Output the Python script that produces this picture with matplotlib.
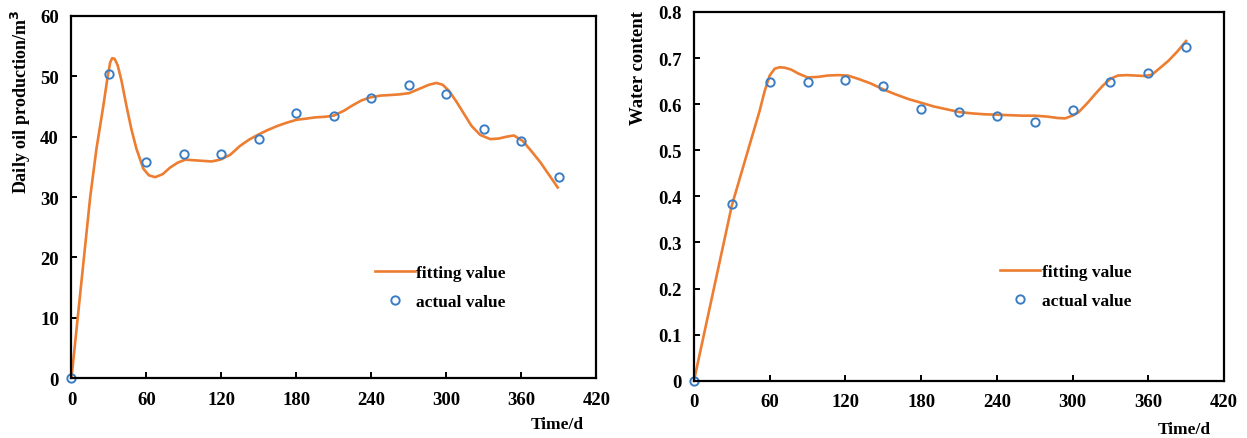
import matplotlib
matplotlib.use("Agg")
import matplotlib.pyplot as plt

plt.rcParams['font.family'] = ['Liberation Serif', 'DejaVu Serif']
plt.rcParams['font.weight'] = 'bold'

# measured data, sampled every 30 days
days = [0, 30, 60, 90, 120, 150, 180, 210, 240, 270, 300, 330, 360, 390]
oil_actual = [0, 50.4, 35.8, 37.1, 37.1, 39.6, 44.0, 43.4, 46.4, 48.6, 47.1, 41.3, 39.3, 33.4]
water_actual = [0, 0.384, 0.649, 0.647, 0.652, 0.639, 0.589, 0.584, 0.574, 0.561, 0.588, 0.647, 0.667, 0.723]

# fitted model output
oil_fit_days = [0, 15, 20, 25.5, 29, 31, 32.6, 34.5, 37, 40, 44, 48, 52, 57.5, 62, 67, 73, 79, 85, 91,
                98, 105, 112, 119, 127, 135, 142, 149, 157, 165, 172, 180, 188, 195, 203, 210,
                218, 225, 232, 239, 247, 255, 262, 270, 278, 286, 292, 297, 302, 308, 314, 320,
                327, 335, 342, 348, 354, 361, 368, 375, 382, 389]
oil_fit = [0, 30, 38, 45.1, 50, 52.3, 53.0, 52.9, 51.8, 49.3, 45.1, 41.2, 38, 34.7, 33.6, 33.3, 33.8, 34.9,
           35.7, 36.2, 36.1, 36.0, 35.9, 36.2, 37.0, 38.5, 39.5, 40.3, 41.1, 41.8, 42.3, 42.8,
           43.0, 43.2, 43.3, 43.5, 44.3, 45.2, 46.0, 46.5, 46.8, 46.9, 47.0, 47.2, 47.9, 48.6,
           48.9, 48.6, 47.6, 45.8, 43.8, 41.8, 40.3, 39.6, 39.7, 40.0, 40.2, 39.3, 37.6, 35.8,
           33.7, 31.6]

water_fit_days = [0, 30, 45, 52, 56, 60, 64, 68, 72, 77, 83, 90, 98, 106, 114, 122, 130, 140,
                  150, 160, 170, 180, 190, 200, 210, 220, 230, 241, 250, 260, 270, 280, 288, 294,
                  300, 305, 312, 318, 324, 330, 336, 343, 350, 357, 363, 370, 376, 383, 390]
water_fit = [0, 0.38, 0.52, 0.585, 0.628, 0.662, 0.677, 0.680, 0.679, 0.675, 0.666, 0.658,
             0.659, 0.662, 0.663, 0.662, 0.655, 0.645, 0.632, 0.621, 0.611, 0.603, 0.595, 0.589,
             0.583, 0.580, 0.578, 0.577, 0.576, 0.575, 0.575, 0.573, 0.570, 0.569, 0.575, 0.583,
             0.603, 0.622, 0.640, 0.655, 0.662, 0.663, 0.662, 0.661, 0.664, 0.680, 0.694, 0.714,
             0.737]

x_ticks = [0, 60, 120, 180, 240, 300, 360, 420]
oil_ticks = [0, 10, 20, 30, 40, 50, 60]
water_ticks = [0, 0.1, 0.2, 0.3, 0.4, 0.5, 0.6, 0.7, 0.8]
water_tick_labels = ['0', '0.1', '0.2', '0.3', '0.4', '0.5', '0.6', '0.7', '0.8']

fit_color = '#ED7D31'
pt_color = '#3A7DC4'

fig = plt.figure(figsize=(12.47, 4.39), dpi=100)
ax1 = fig.add_axes([0.0573, 0.136, 0.4210, 0.8255])
ax2 = fig.add_axes([0.5565, 0.1305, 0.4250, 0.8400])


def style(ax):
    for s in ax.spines.values():
        s.set_linewidth(1.6)
    ax.tick_params(direction='in', length=4, width=1.4, labelsize=13.5)
    ax.tick_params(axis='y', pad=9)
    ax.tick_params(axis='x', pad=9)
    ax.set_xlim(0, 420)
    ax.set_xticks(x_ticks)
    for lab in ax.get_xticklabels() + ax.get_yticklabels():
        lab.set_fontweight('bold')


def add_legend(ax, y):
    ax.legend(loc='center left', bbox_to_anchor=(0.548, y), frameon=False,
              prop={'size': 12.5, 'weight': 'bold'}, handlelength=2.3, handletextpad=0.1,
              labelspacing=0.75)


# daily oil production
ax1.plot(oil_fit_days, oil_fit, color=fit_color, lw=1.9, label='fitting value')
ax1.plot(days, oil_actual, 'o', mfc='none', mec=pt_color, mew=1.4, ms=6,
         clip_on=False, label='actual value')
ax1.set_ylim(0, 60)
ax1.set_yticks(oil_ticks)
style(ax1)
ax1.set_ylabel('Daily oil production/m$^{\\mathbf{3}}$', fontsize=13, fontweight='bold', loc='top')
ax1.yaxis.set_label_coords(-0.073, 1.02)
ax1.set_xlabel('Time/d', fontsize=12.5, fontweight='bold')
ax1.xaxis.set_label_coords(0.925, -0.105)
add_legend(ax1, 0.25)

# water content
ax2.plot(water_fit_days, water_fit, color=fit_color, lw=1.9, label='fitting value')
ax2.plot(days, water_actual, 'o', mfc='none', mec=pt_color, mew=1.4, ms=6,
         clip_on=False, label='actual value')
ax2.set_ylim(0, 0.8)
ax2.set_yticks(water_ticks)
ax2.set_yticklabels(water_tick_labels)
style(ax2)
ax2.set_ylabel('Water content', fontsize=13.5, fontweight='bold', loc='top')
ax2.yaxis.set_label_coords(-0.089, 1.005)
ax2.set_xlabel('Time/d', fontsize=12.5, fontweight='bold')
ax2.xaxis.set_label_coords(0.925, -0.108)
add_legend(ax2, 0.255)

fig.savefig('out.png', dpi=100)
